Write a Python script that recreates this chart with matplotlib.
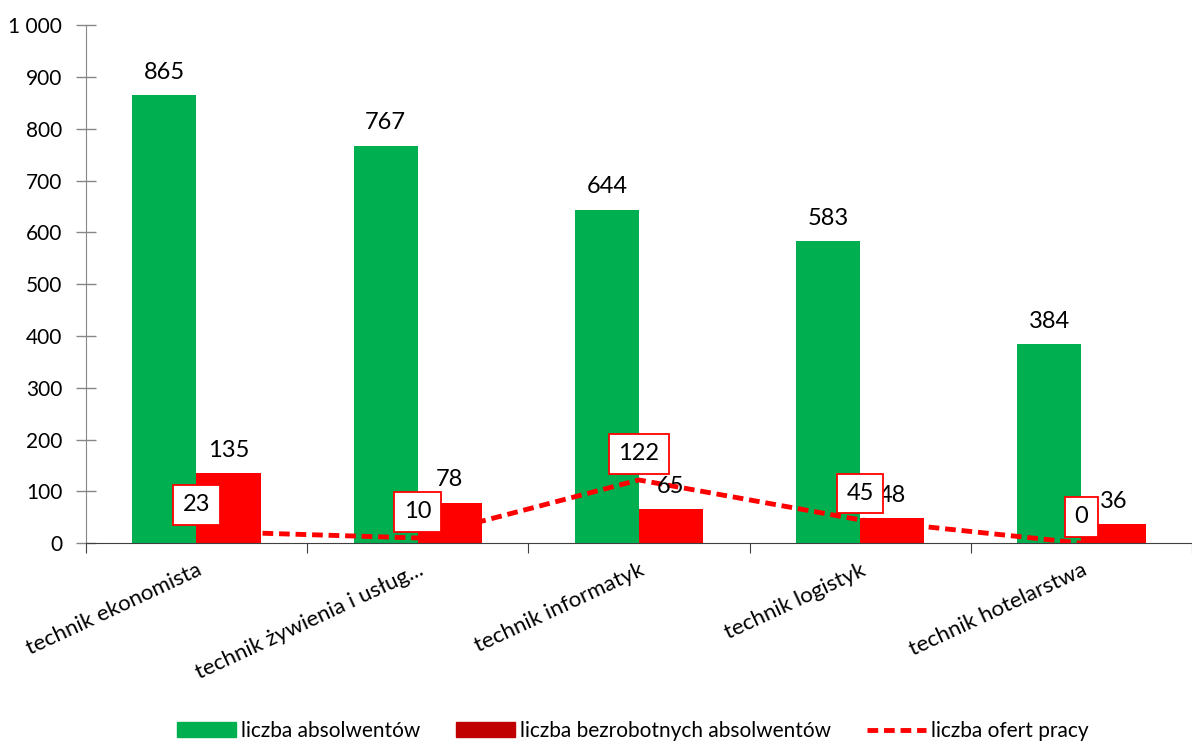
import numpy as np
import matplotlib
matplotlib.use("Agg")
import matplotlib.pyplot as plt
from matplotlib.ticker import FuncFormatter
from matplotlib.patches import Patch
from matplotlib.lines import Line2D

# dane
zawody = ["technik ekonomista", "technik żywienia i usług...", "technik informatyk",
          "technik logistyk", "technik hotelarstwa"]
absolwenci = [865, 767, 644, 583, 384]
bezrobotni = [135, 78, 65, 48, 36]
oferty = [23, 10, 122, 45, 0]

ZIELONY = "#00B050"
CZERWONY = "#FF0000"

plt.rcParams['font.family'] = ['Lato', 'DejaVu Sans']

fig = plt.figure(figsize=(11.92, 7.42), dpi=100)
ax = fig.add_axes([0.072, 0.268, 0.928, 0.698])

x = np.arange(len(zawody))
w = 0.29
ax.bar(x - w / 2, absolwenci, w, color=ZIELONY, zorder=2)
ax.bar(x + w / 2, bezrobotni, w, color=CZERWONY, zorder=2)
ax.plot(x, oferty, color=CZERWONY, linestyle=(0, (2.2, 1.2)), linewidth=3.5, zorder=3)

# etykiety slupkow
for xi, v in zip(x, absolwenci):
    ax.annotate(str(v), (xi - w / 2, v), xytext=(0, 9), textcoords="offset points",
                ha="center", va="bottom", fontsize=17)
for xi, v in zip(x, bezrobotni):
    ax.annotate(str(v), (xi + w / 2, v), xytext=(0, 9), textcoords="offset points",
                ha="center", va="bottom", fontsize=17)
# etykiety linii
for xi, v in zip(x, oferty):
    ax.annotate(str(v), (xi, v), xytext=(0, 19), textcoords="offset points",
                ha="center", va="center", fontsize=17, zorder=5,
                bbox=dict(boxstyle="square,pad=0.4", fc="white", ec=CZERWONY, lw=1.3))

ax.set_xlim(-0.5, len(zawody) - 0.5)
ax.set_ylim(0, 1000)
ax.set_yticks(np.arange(0, 1001, 100))
ax.yaxis.set_major_formatter(FuncFormatter(lambda v, p: f"{int(v):,}".replace(",", " ")))
ax.tick_params(axis="y", direction="inout", length=14, width=1, color="#868686",
               labelsize=15, pad=10)

ax.set_xticks(np.arange(-0.5, len(zawody), 1.0))
ax.set_xticklabels([])
ax.tick_params(axis="x", which="major", direction="out", length=7, color="#404040")
ax.set_xticks(x, minor=True)
ax.set_xticklabels(zawody, minor=True, rotation=25, ha="right", rotation_mode="anchor",
                   fontsize=16)
ax.tick_params(axis="x", which="minor", length=0, pad=12)

for s in ["top", "right"]:
    ax.spines[s].set_visible(False)
ax.spines["left"].set_color("#868686")
ax.spines["bottom"].set_color("#404040")

handles = [Patch(color=ZIELONY, label="liczba absolwentów"),
           Patch(color="#C00000", label="liczba bezrobotnych absolwentów"),
           Line2D([0], [0], color=CZERWONY, linestyle=(0, (2.2, 1.2)), lw=3.5,
                  label="liczba ofert pracy")]
fig.legend(handles=handles, loc="center", bbox_to_anchor=(0.531, 0.015), ncol=3,
           frameon=False, fontsize=15, handlelength=2.8, handleheight=0.7,
           columnspacing=1.75, handletextpad=0.25)

fig.savefig("out.png", dpi=100)
